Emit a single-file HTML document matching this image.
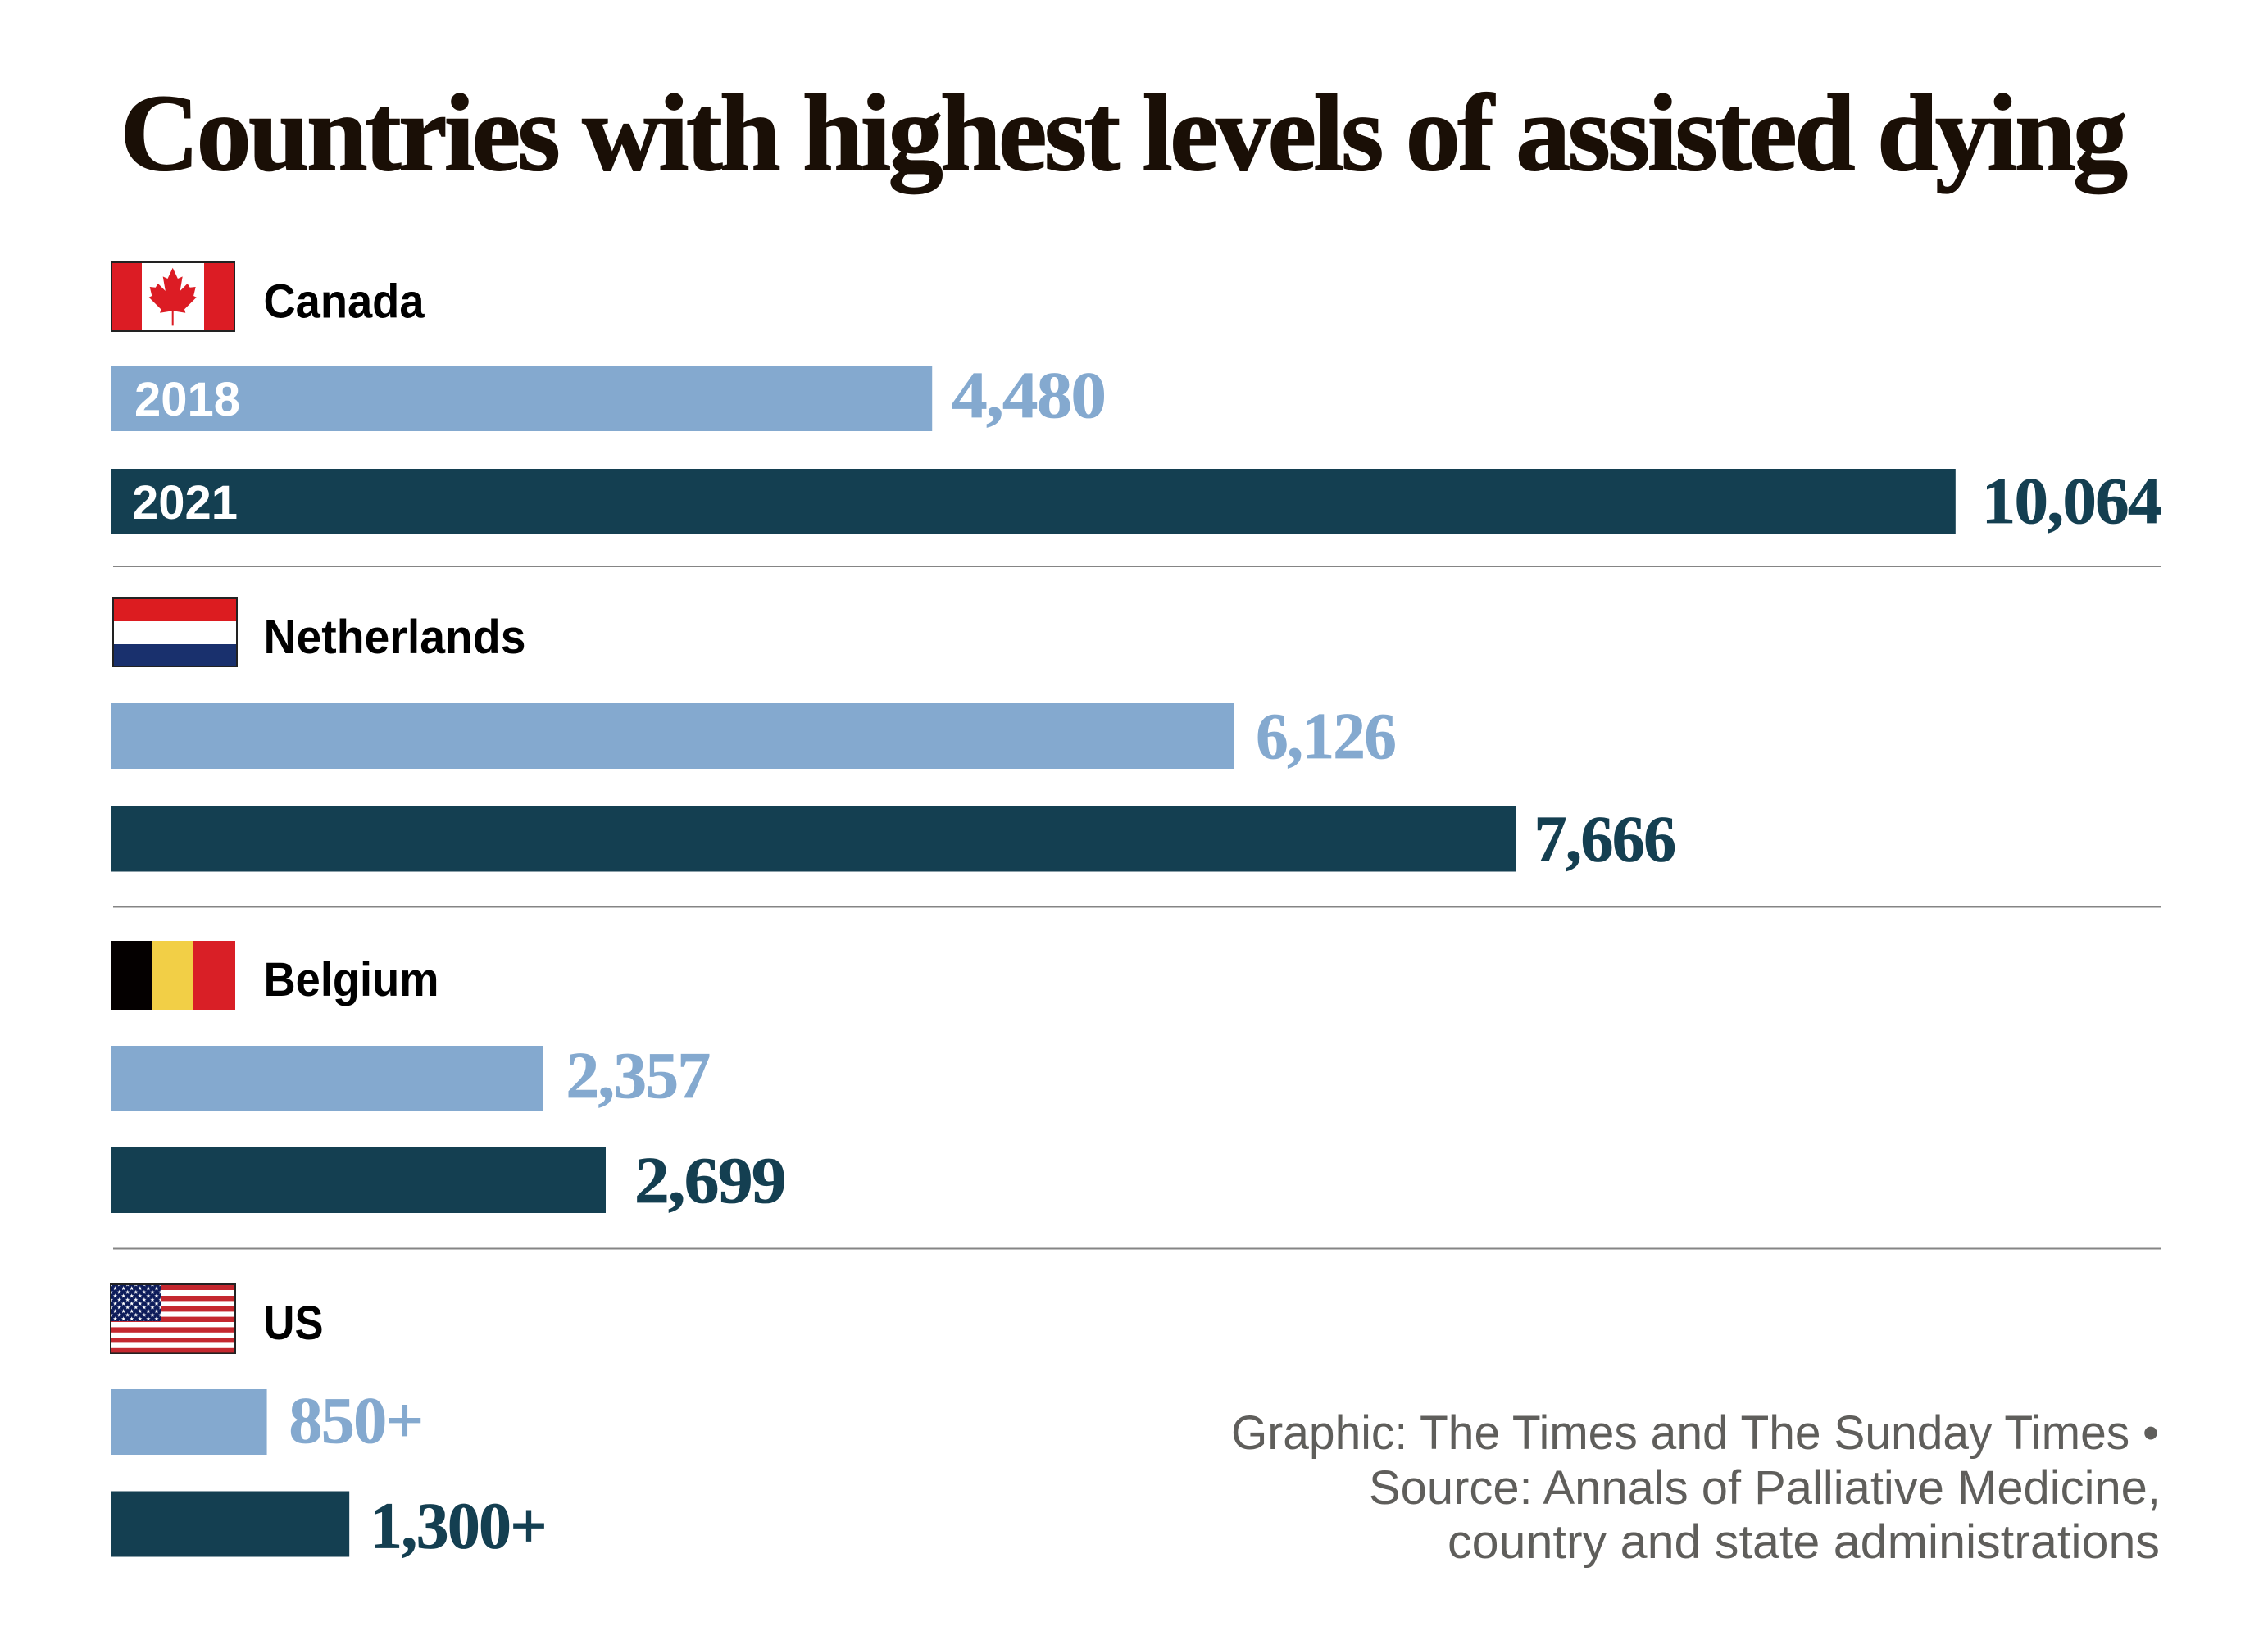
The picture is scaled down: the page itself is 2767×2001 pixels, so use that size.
<!DOCTYPE html>
<html lang="en">
<head>
<meta charset="utf-8">
<title>Countries with highest levels of assisted dying</title>
<style>
  html, body { margin: 0; padding: 0; background: #fff; }
  svg { display: block; }
  .title { font-family: "Liberation Serif", serif; font-weight: 700; font-size: 134px; letter-spacing: -3.5px; fill: #1a0f06; stroke: #1a0f06; stroke-width: 1.5px; }
  .value { font-family: "Liberation Serif", serif; font-weight: 700; font-size: 80px; letter-spacing: -1.5px; }
  .name { font-family: "Liberation Sans", sans-serif; font-weight: 700; font-size: 58px; fill: #000; }
  .year { font-family: "Liberation Sans", sans-serif; font-weight: 700; font-size: 58px; fill: #fff; }
  .note { font-family: "Liberation Sans", sans-serif; font-size: 58px; fill: #5f5e5b; }
</style>
</head>
<body>
<svg id="chart" xmlns="http://www.w3.org/2000/svg" width="2767" height="2001" viewBox="0 0 2767 2001">
  <defs>
    <polygon id="star" points="0,-2.8 0.7,-0.9 2.7,-0.9 1.1,0.3 1.7,2.3 0,1.1 -1.7,2.3 -1.1,0.3 -2.7,-0.9 -0.7,-0.9"/>
    <pattern id="stars" patternUnits="userSpaceOnUse" x="136" y="1567.5" width="10.1" height="9.3">
      <use href="#star" x="4.5" y="4.4" fill="#fff"/>
      <use href="#star" x="-0.55" y="9.05" fill="#fff"/>
      <use href="#star" x="9.55" y="9.05" fill="#fff"/>
      <use href="#star" x="-0.55" y="-0.25" fill="#fff"/>
      <use href="#star" x="9.55" y="-0.25" fill="#fff"/>
    </pattern>
  </defs>
  <rect x="0" y="0" width="2767" height="2001" fill="#fff"/>
  <text class="title" x="146.5" y="207" textLength="2446" lengthAdjust="spacingAndGlyphs">Countries with highest levels of assisted dying</text>

  <g>
    <rect x="136" y="320" width="150" height="84" fill="#fff" stroke="#222" stroke-width="2"/>
    <rect x="137" y="321" width="36" height="82" fill="#dc1c24"/>
    <rect x="249" y="321" width="36" height="82" fill="#dc1c24"/>
    <path transform="translate(210.7 326.7)" fill="#dc1c24" d="M0 0L6.2 13.3L12 10.7L8.9 28.3L17.9 19.3L21 24L28 23.3L25.4 34.3L29 36L14.3 50.7L15.6 55L1 52.7L1 70.7L-1 70.7L-1 52.7L-15.6 55L-14.3 50.7L-29 36L-25.4 34.3L-28 23.3L-21 24L-17.9 19.3L-8.9 28.3L-12 10.7L-6.2 13.3Z"/>
  </g>

  <g>
    <rect x="138" y="730" width="151" height="83" fill="#fff" stroke="#222" stroke-width="2"/>
    <rect x="139" y="731" width="149" height="27" fill="#dc1c20"/>
    <rect x="139" y="786" width="149" height="26" fill="#19306d"/>
  </g>

  <g>
    <rect x="135" y="1148" width="51" height="84" fill="#040000"/>
    <rect x="186" y="1148" width="50" height="84" fill="#f2cf46"/>
    <rect x="236" y="1148" width="51" height="84" fill="#d91f26"/>
  </g>

  <g>
    <rect x="135" y="1567" width="152" height="84" fill="#fff" stroke="#222" stroke-width="2"/>
    <rect x="136" y="1568" width="150" height="6" fill="#c4282f"/>
    <rect x="136" y="1581" width="150" height="6.4" fill="#c4282f"/>
    <rect x="136" y="1594" width="150" height="6.4" fill="#c4282f"/>
    <rect x="136" y="1606.6" width="150" height="6.4" fill="#c4282f"/>
    <rect x="136" y="1619.4" width="150" height="6.4" fill="#c4282f"/>
    <rect x="136" y="1632" width="150" height="6.4" fill="#c4282f"/>
    <rect x="136" y="1644.8" width="150" height="5.6" fill="#c4282f"/>
    <rect x="136" y="1568" width="60" height="44" fill="#0d1c5a"/>
    <rect x="136" y="1568" width="60" height="44" fill="url(#stars)"/>
  </g>

  <line x1="138" x2="2636" y1="691" y2="691" stroke="#858585" stroke-width="2"/>
  <line x1="138" x2="2636" y1="1106.5" y2="1106.5" stroke="#858585" stroke-width="2"/>
  <line x1="138" x2="2636" y1="1523.5" y2="1523.5" stroke="#858585" stroke-width="2"/>

  <g id="marks"></g>

  <g>
    <text class="note" x="1502" y="1768" textLength="1132" lengthAdjust="spacingAndGlyphs">Graphic: The Times and The Sunday Times •</text>
    <text class="note" x="1670" y="1835" textLength="966" lengthAdjust="spacingAndGlyphs">Source: Annals of Palliative Medicine,</text>
    <text class="note" x="1766" y="1901" textLength="869" lengthAdjust="spacingAndGlyphs">country and state administrations</text>
  </g>
</svg>
<script>
// Chart data
const countries = ["Canada", "Netherlands", "Belgium", "US"];
const years = ["2018", "2021"];
const values2018 = [4480, 6126, 2357, 850];
const values2021 = [10064, 7666, 2699, 1300];
const valueSuffixes = ["", "", "", "+"];

// Layout (not data)
const NS = "http://www.w3.org/2000/svg";
const LIGHT = "#84a9cf";
const DARK = "#143f51";
const X0 = 135.5;
const PX_PER_CASE = 0.2236;
const BAR_H = 80;
const FIRST_BAR_TOP = 446;
const rowShift = [0, 412, 830, 1249];
const rowPitch = [126, 125.5, 124, 124.5];
const nameBaseline = [387.7, 797, 1215, 1634];
const nameWidth = [196, 320, 214, 73];
const gap2018 = [24, 27, 28, 27];
const gap2021 = [32, 22, 35, 25];
const rise2018 = [17, 13, 17, 15];
const rise2021 = [14, 13, 13, 11];
const width2018 = [187, 170, 175, 163];
const width2021 = [218, 172, 184, 215];

function xScale(v) { return v * PX_PER_CASE; }
function barTop(row, seriesIndex) { return FIRST_BAR_TOP + rowShift[row] + seriesIndex * rowPitch[row]; }
function fmt(v, suffix) { return v.toLocaleString("en-US") + suffix; }

const marks = document.getElementById("marks");

function drawSeries(values, seriesIndex, color, gaps, rises, widths) {
  values.forEach(function (v, i) {
    const top = barTop(i, seriesIndex);
    const bar = document.createElementNS(NS, "rect");
    bar.setAttribute("x", X0);
    bar.setAttribute("y", top);
    bar.setAttribute("width", xScale(v));
    bar.setAttribute("height", BAR_H);
    bar.setAttribute("fill", color);
    
    
    marks.appendChild(bar);

    const label = document.createElementNS(NS, "text");
    label.setAttribute("class", "value");
    label.setAttribute("x", X0 + xScale(v) + gaps[i]);
    label.setAttribute("y", top + BAR_H - rises[i]);
    label.setAttribute("fill", color);
    label.setAttribute("stroke", color);
    label.setAttribute("stroke-width", "0.8");
    label.setAttribute("textLength", widths[i]);
    label.setAttribute("lengthAdjust", "spacingAndGlyphs");
    label.textContent = fmt(v, valueSuffixes[i]);
    
    
    marks.appendChild(label);
  });
}

drawSeries(values2018, 0, LIGHT, gap2018, rise2018, width2018);
drawSeries(values2021, 1, DARK, gap2021, rise2021, width2021);

countries.forEach(function (c, i) {
  const t = document.createElementNS(NS, "text");
  t.setAttribute("class", "name");
  t.setAttribute("x", 321.5);
  t.setAttribute("y", nameBaseline[i]);
  t.setAttribute("textLength", nameWidth[i]);
  t.setAttribute("lengthAdjust", "spacingAndGlyphs");
  t.textContent = c;
  
  
  marks.appendChild(t);
});

years.forEach(function (y, s) {
  const t = document.createElementNS(NS, "text");
  t.setAttribute("class", "year");
  t.setAttribute("x", s === 0 ? 164 : 161);
  t.setAttribute("y", barTop(0, s) + BAR_H - 19);
  t.textContent = y;
  
  
  marks.appendChild(t);
});
</script>
</body>
</html>
